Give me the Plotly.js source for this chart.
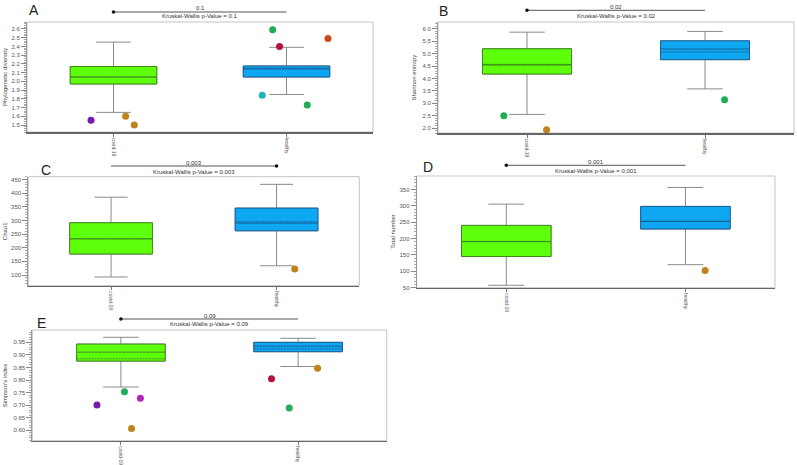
<!DOCTYPE html>
<html>
<head>
<meta charset="utf-8">
<script src="https://cdn.plot.ly/plotly-3.0.1.min.js"></script>
<style>html,body{margin:0;padding:0;background:#fff;}#chart{width:797px;height:465px;}</style>
</head>
<body>
<div id="chart"></div>
<script>
// ---------------- DATA ----------------
const categories = ['covid-19', 'healthy'];
const panelLetters = ['A', 'B', 'C', 'D', 'E'];
const yTitles = ['Phylogenetic diversity', 'Shannon entropy', 'Chao1', 'Total number', "Simpson's index"];
const pValues = ['0.1', '0.02', '0.003', '0.001', '0.09'];

// box statistics per panel: [covid-19, healthy]
const q1Values      = [[1.97, 2.05], [4.18, 4.76], [177, 262], [145, 229], [0.8755, 0.9128]];
const medianValues  = [[2.05, 2.15], [4.57, 5.19], [233, 290], [191, 252], [0.911, 0.935]];
const q3Values      = [[2.17, 2.176], [5.20, 5.52], [291.5, 345], [240, 298], [0.943, 0.950]];
const lowerWhisker  = [[1.645, 1.85], [2.55, 3.58], [93, 134], [57, 120], [0.7725, 0.854]];
const upperWhisker  = [[2.45, 2.39], [5.87, 5.90], [385, 432], [305, 356], [0.970, 0.966]];
const meanValues    = [[2.05, 2.14], [4.53, 5.07], [232, 295], [190, 253], [0.8846, 0.924]];

// outliers per panel: [covid-19 list, healthy list]
const outlierValues = [
  [[1.555, 1.60, 1.50], [2.59, 2.40, 2.49, 1.84, 1.73]],
  [[2.50, 1.93], [3.14]],
  [[], [122]],
  [[], [102]],
  [[0.754, 0.7275, 0.701, 0.607], [0.805, 0.847, 0.689]]
];
const outlierJitter = [
  [[-0.13, 0.07, 0.12], [-0.08, -0.04, 0.24, -0.14, 0.12]],
  [[-0.13, 0.11], [0.11]],
  [[], [0.11]],
  [[], [0.11]],
  [[0.02, 0.11, -0.135, 0.06], [-0.15, 0.11, -0.05]]
];
const outlierSamples = [
  [['purple', 'brown', 'brown'], ['green', 'crimson', 'rust', 'teal', 'green']],
  [['green', 'brown'], ['green']],
  [[], ['brown']],
  [[], ['brown']],
  [['green', 'magenta', 'purple', 'brown'], ['crimson', 'brown', 'green']]
];

// ---------------- STYLE / LAYOUT ----------------
const sampleColors = {purple: '#7a1aa8', brown: '#c0821a', green: '#1fae55', crimson: '#b5123e',
                      rust: '#c84a1a', teal: '#22b2bb', magenta: '#b526b5'};
const groupFill = ['#5eff0a', '#0ea8f2'];
const groupEdge = ['#3f8a1c', '#1a5f95'];
const W = 797, H = 465;
// plot frames in pixels: [left, right, top, bottom]
const frames = [[27, 373, 22, 132], [438, 794, 22, 133], [28.3, 359.3, 176.7, 285.7],
                [416.7, 775, 176, 287.7], [32.3, 386.7, 330, 440.7]];
const yRanges = [[1.42, 2.68], [1.8, 6.28], [61, 460], [49.6, 391], [0.559, 0.999]];
const yDticks = [0.1, 0.5, 50, 50, 0.05];
const yMinor = [0.02, 0.1, 10, 10, 0.01];
const yFormats = ['.1f', '.1f', '', '', '.2f'];
// bracket rows: [line y, p text y, KW text y], dot side
const bracketY = [[12, 8, 16.3], [10.3, 6.7, 15.7], [166, 163, 172], [165.3, 162.3, 171], [319, 315.7, 324.3]];
const dotSide = [0, 0, 1, 0, 0];
const letterPos = [[34, 10], [443, 11], [46, 170], [428, 167], [41, 323]];
const yTitleX = [5, 414, 5, 393, 5];

const FONT = 'Liberation Sans, Arial, sans-serif';
const data = [];
const layout = {
  width: W, height: H, margin: {l: 0, r: 0, t: 0, b: 0},
  paper_bgcolor: '#fff', plot_bgcolor: '#fff', showlegend: false,
  boxmode: 'overlay', font: {family: FONT, size: 6, color: '#444'},
  shapes: [], annotations: []
};
const px = v => v / W, py = v => 1 - v / H;

for (let p = 0; p < 5; p++) {
  const n = p === 0 ? '' : String(p + 1);
  const xa = 'x' + n, ya = 'y' + n;
  const [l, r, t, b] = frames[p];
  layout['xaxis' + n] = {
    domain: [px(l), px(r)], anchor: ya, range: [-0.5, 1.5],
    tickvals: [0, 1], ticktext: categories, tickangle: 90,
    ticks: 'outside', ticklen: 3, tickcolor: '#777', showgrid: false, zeroline: false,
    showline: true, linecolor: '#666', linewidth: 1.5,
    tickfont: {size: 5, color: '#555', family: FONT}
  };
  layout['yaxis' + n] = {
    domain: [py(b), py(t)], anchor: xa, range: yRanges[p], dtick: yDticks[p], tick0: 0,
    tickformat: yFormats[p], ticks: 'outside', ticklen: 5, tickcolor: '#888',
    showgrid: false, zeroline: false, showline: true, linecolor: '#999', linewidth: 1,
    minor: {ticks: 'outside', ticklen: 2, tickcolor: '#aaa', dtick: yMinor[p], showgrid: false},
    tickfont: {size: 6, color: '#555', family: FONT}
  };
  // frame
  layout.shapes.push({type: 'rect', xref: xa + ' domain', yref: ya + ' domain', x0: 0, x1: 1, y0: 0, y1: 1,
                      line: {color: '#c4c4c4', width: 1}, layer: 'below'});
  for (let g = 0; g < 2; g++) {
    // whiskers (gray)
    data.push({type: 'box', xaxis: xa, yaxis: ya, x: [g], q1: [q1Values[p][g]], median: [medianValues[p][g]],
      q3: [q3Values[p][g]], lowerfence: [lowerWhisker[p][g]], upperfence: [upperWhisker[p][g]],
      width: 0.5, whiskerwidth: 0.4, fillcolor: 'rgba(0,0,0,0)', line: {color: '#8a8a8a', width: 1},
      boxpoints: false, hoverinfo: 'skip'});
    // box body
    data.push({type: 'box', xaxis: xa, yaxis: ya, x: [g], q1: [q1Values[p][g]], median: [medianValues[p][g]],
      q3: [q3Values[p][g]], lowerfence: [q1Values[p][g]], upperfence: [q3Values[p][g]], mean: [meanValues[p][g]],
      boxmean: true, width: 0.5, whiskerwidth: 0, fillcolor: groupFill[g], line: {color: groupEdge[g], width: 1},
      boxpoints: false});
    // outliers
    const vals = outlierValues[p][g];
    if (vals.length) {
      data.push({type: 'scatter', mode: 'markers', xaxis: xa, yaxis: ya,
        x: outlierJitter[p][g].map(j => g + j), y: vals, cliponaxis: false,
        marker: {size: 7, color: outlierSamples[p][g].map(s => sampleColors[s]), line: {width: 0}}});
    }
  }
  // bracket
  const [ly, ty, ky] = bracketY[p];
  layout.shapes.push({type: 'line', xref: xa, yref: 'paper', x0: 0, x1: 1, y0: py(ly), y1: py(ly),
                      line: {color: '#555', width: 1}});
  layout.shapes.push({type: 'circle', xref: xa, yref: 'paper', xsizemode: 'pixel', ysizemode: 'pixel',
                      xanchor: dotSide[p], yanchor: py(ly), x0: -1.8, x1: 1.8, y0: -1.8, y1: 1.8,
                      fillcolor: '#111', line: {width: 0}});
  layout.annotations.push({xref: xa, yref: 'paper', x: 0.5, y: py(ty), text: pValues[p], showarrow: false,
                           font: {size: 6, color: '#333'}, yanchor: 'middle'});
  layout.annotations.push({xref: xa, yref: 'paper', x: 0.5, y: py(ky), text: 'Kruskal-Wallis p-Value = ' + pValues[p],
                           showarrow: false, font: {size: 6, color: '#333'}, yanchor: 'middle'});
  // panel letter
  layout.annotations.push({xref: 'paper', yref: 'paper', x: px(letterPos[p][0]), y: py(letterPos[p][1]),
                           text: panelLetters[p], showarrow: false, font: {size: 14, color: '#222', family: FONT},
                           xanchor: 'center', yanchor: 'middle'});
  // y title
  layout.annotations.push({xref: 'paper', yref: 'paper', x: px(yTitleX[p]), y: py((t + b) / 2),
                           text: yTitles[p], textangle: -90, showarrow: false,
                           font: {size: 6, color: '#444', family: FONT}, xanchor: 'center', yanchor: 'middle'});
}

Plotly.newPlot('chart', data, layout, {staticPlot: true, displayModeBar: false});
</script>
</body>
</html>
